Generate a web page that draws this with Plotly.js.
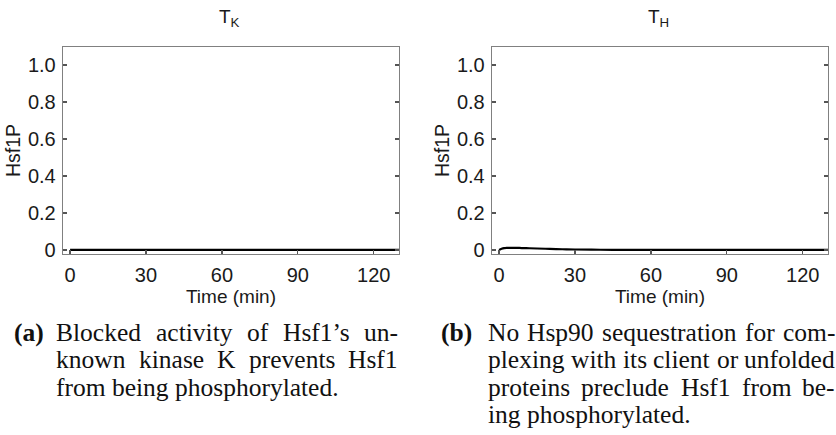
<!DOCTYPE html>
<html>
<head>
<meta charset="utf-8">
<script src="https://cdn.plot.ly/plotly-3.0.1.min.js"></script>
<style>
html,body{margin:0;padding:0;background:#fff;}
#chart{width:836px;height:435px;}
</style>
</head>
<body>
<div id="chart"></div>
<script>
// ---- data ----
const timeA = [0, 10, 20, 30, 40, 50, 60, 70, 80, 90, 100, 110, 120, 130];
const hsf1pA = [0, 0, 0, 0, 0, 0, 0, 0, 0, 0, 0, 0, 0, 0];
const timeB = [0, 1, 2, 3, 4, 5, 6, 8, 10, 12, 15, 20, 25, 30, 40, 50, 60, 70, 80, 90, 100, 110, 120, 130];
const hsf1pB = [0, 0.006, 0.0095, 0.011, 0.0115, 0.0115, 0.0112, 0.0106, 0.0098, 0.009, 0.0078, 0.0058, 0.0038, 0.0022, 0.001, 0.0005, 0.0003, 0.0002, 0.0001, 0, 0, 0, 0, 0];
const xTickVals = [0, 30, 60, 90, 120];
const xTickText = ["0", "30", "60", "90", "120"];
const yTickVals = [0, 0.2, 0.4, 0.6, 0.8, 1.0];
const yTickText = ["0", "0.2", "0.4", "0.6", "0.8", "1.0"];
const panelTitles = ["T<sub>K</sub>", "T<sub>H</sub>"];
const xTitle = "Time (min)";
const yTitle = "Hsf1P";
const captionLabels = ["(a)", "(b)"];
const captionA = [
  "Blocked activity of Hsf1\u2019s un-",
  "known kinase K prevents Hsf1",
  "from being phosphorylated."
];
const captionB = [
  "No Hsp90 sequestration for com-",
  "plexing with its client or unfolded",
  "proteins preclude Hsf1 from be-",
  "ing phosphorylated."
];

// ---- layout helpers (pixel -> paper) ----
const W = 836, H = 435;
const px = v => v / W;
const py = v => 1 - v / H;

const sans = "Liberation Sans, Arial, sans-serif";
const serifName = "Liberation Serif";
const serif = serifName + ", Times New Roman, serif";
const axisGray = "#808080";
const tickSize = 20;

function xAxis(domain) {
  return {
    domain: domain, range: [-2.8, 130], autorange: false,
    tickmode: "array", tickvals: xTickVals, ticktext: xTickText,
    ticks: "inside", ticklen: 4, tickwidth: 1.3, tickcolor: "#555",
    showline: true, linecolor: axisGray, linewidth: 1.3, mirror: true,
    showgrid: false, zeroline: false,
    tickfont: {family: sans, size: tickSize, color: "#1a1a1a"},
    ticklabelstandoff: 3,
    title: {text: xTitle, font: {family: sans, size: 19, color: "#1a1a1a"}, standoff: 4},
    automargin: false, fixedrange: true
  };
}
function yAxis(domain) {
  return {
    domain: domain, range: [-0.022, 1.097], autorange: false,
    tickmode: "array", tickvals: yTickVals, ticktext: yTickText,
    ticks: "inside", ticklen: 4, tickwidth: 1.3, tickcolor: "#555",
    showline: true, linecolor: axisGray, linewidth: 1.3, mirror: "ticks",
    showgrid: false, zeroline: false,
    tickfont: {family: sans, size: tickSize, color: "#1a1a1a"},
    ticklabelstandoff: 2,
    title: {text: yTitle, font: {family: sans, size: 19.5, color: "#1a1a1a"}, standoff: 2},
    automargin: false, fixedrange: true
  };
}

const traces = [
  {x: timeA, y: hsf1pA, xaxis: "x", yaxis: "y", mode: "lines",
   line: {color: "#000", width: 2.2}, hoverinfo: "skip", showlegend: false},
  {x: timeB, y: hsf1pB, xaxis: "x2", yaxis: "y2", mode: "lines",
   line: {color: "#000", width: 2.2, shape: "spline"}, hoverinfo: "skip", showlegend: false}
];

const annotations = [];
// panel titles
[[229, panelTitles[0]], [658, panelTitles[1]]].forEach(([cx, t]) => {
  annotations.push({xref: "paper", yref: "paper", x: px(cx), y: py(18),
    xanchor: "center", yanchor: "middle", showarrow: false, text: t, borderpad: 0,
    font: {family: sans, size: 19, color: "#1a1a1a"}});
});

// captions (justified, words measured with the same font)
const capSize = 25.5;
const capFont = {family: serif, size: capSize, color: "#111"};
const lineY = [332, 359.5, 387, 414.5];
const ctx = document.createElement("canvas").getContext("2d");
ctx.font = capSize + 'px "' + serifName + '"';
function addCaption(label, labelX, lines, left, right) {
  annotations.push({xref: "paper", yref: "paper", x: px(labelX), y: py(lineY[0]),
    xanchor: "left", yanchor: "middle", showarrow: false, borderpad: 0,
    text: "<b>" + label + "</b>", font: capFont});
  lines.forEach((line, li) => {
    const last = li === lines.length - 1;
    if (last) {
      annotations.push({xref: "paper", yref: "paper", x: px(left), y: py(lineY[li]),
        xanchor: "left", yanchor: "middle", showarrow: false, borderpad: 0, text: line, font: capFont});
      return;
    }
    const words = line.split(" ");
    const widths = words.map(w => ctx.measureText(w).width);
    const total = widths.reduce((a, b) => a + b, 0);
    const gap = (right - left - total) / (words.length - 1);
    let x = left;
    words.forEach((w, wi) => {
      annotations.push({xref: "paper", yref: "paper", x: px(x), y: py(lineY[li]),
        xanchor: "left", yanchor: "middle", showarrow: false, borderpad: 0, text: w, font: capFont});
      x += widths[wi] + gap;
    });
  });
}
addCaption(captionLabels[0], 13, captionA, 55, 397);
addCaption(captionLabels[1], 440, captionB, 487, 834);

const layout = {
  width: W, height: H,
  margin: {l: 0, r: 0, t: 0, b: 0, pad: 0},
  paper_bgcolor: "#fff", plot_bgcolor: "#fff",
  showlegend: false,
  xaxis: Object.assign(xAxis([px(63), px(399)]), {anchor: "y"}),
  yaxis: Object.assign(yAxis([py(254), py(47)]), {anchor: "x"}),
  xaxis2: Object.assign(xAxis([px(492), px(828)]), {anchor: "y2"}),
  yaxis2: Object.assign(yAxis([py(254), py(47)]), {anchor: "x2"}),
  annotations: annotations
};

Plotly.newPlot("chart", traces, layout, {displayModeBar: false, staticPlot: true});
</script>
</body>
</html>
